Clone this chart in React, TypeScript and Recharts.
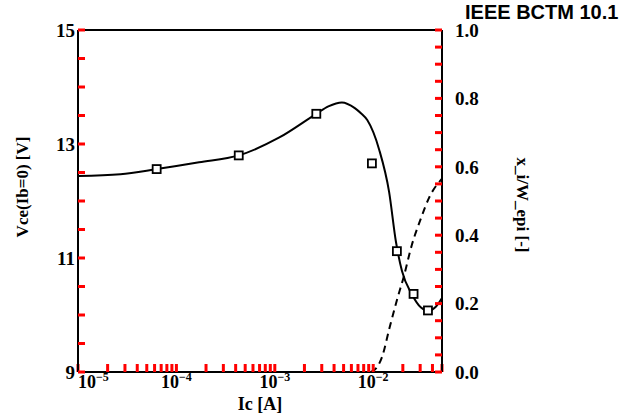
import { ComposedChart, Line, XAxis, YAxis, Label, ReferenceLine } from "recharts";

// Vce(Ib=0) fitted curve (left axis)
const curveIc = [1e-5, 2.7e-5, 6.3e-5, 1.7e-4, 4.3e-4, 1.1e-3, 2.64e-3, 3.5e-3, 4.8e-3, 6.5e-3, 7.5e-3, 8.7e-3, 1.15e-2, 1.45e-2, 1.7e-2, 1.96e-2, 2.46e-2, 3.06e-2, 3.6e-2, 4.3e-2, 5e-2];
const curveVce = [12.44, 12.47, 12.56, 12.68, 12.8, 13.11, 13.53, 13.66, 13.73, 13.63, 13.54, 13.42, 12.9, 12.16, 11.29, 10.77, 10.37, 10.13, 10.07, 10.14, 10.3];

// measured points (squares)
const markIc = [6.3e-5, 4.3e-4, 2.64e-3, 9.7e-3, 1.74e-2, 2.57e-2, 3.6e-2];
const markVce = [12.56, 12.8, 13.53, 12.66, 11.12, 10.37, 10.08];

// x_i/W_epi (right axis, dashed)
const xiIc = [9.5e-3, 1.08e-2, 1.23e-2, 1.45e-2, 1.74e-2, 2.05e-2, 2.46e-2, 3.06e-2, 3.7e-2, 5e-2];
const xiRatio = [0, 0.012, 0.044, 0.124, 0.21, 0.28, 0.37, 0.45, 0.51, 0.565];

const decades = [1e-5, 1e-4, 1e-3, 1e-2];
const mults = [1, 2, 3, 4, 5, 6, 7, 8, 9];
const xTicks = decades
  .flatMap((d) => mults.map((m) => Number((m * d).toPrecision(2))))
  .filter((v) => v <= 0.05);

const leftTicks = [9, 9.5, 10, 10.5, 11, 11.5, 12, 12.5, 13, 13.5, 14, 14.5, 15];
const leftLabels = [9, 11, 13, 15];
const rightTicks = [0, 0.05, 0.1, 0.15, 0.2, 0.25, 0.3, 0.35, 0.4, 0.45, 0.5, 0.55, 0.6, 0.65, 0.7, 0.75, 0.8, 0.85, 0.9, 0.95, 1];
const rightLabels = [0, 0.2, 0.4, 0.6, 0.8, 1];

const curveData = curveIc.map((ic, i) => ({ ic, v: curveVce[i] }));
const markData = markIc.map((ic, i) => ({ ic, v: markVce[i] }));
const xiData = xiIc.map((ic, i) => ({ ic, r: xiRatio[i] }));

const serif = { fontFamily: "'Liberation Serif', 'Times New Roman', serif", fontWeight: 700, fill: "#000" };
const axisLine = { stroke: "#000", strokeWidth: 2 };
const tickLine = { stroke: "red", strokeWidth: 3 };

function BottomTick(props: any) {
  const { x, y, payload, index } = props;
  const lg = Math.log10(payload.value);
  if (Math.abs(lg - Math.round(lg)) > 1e-6) return <g />;
  const exp = Math.round(lg);
  return (
    <text x={x} y={y + 14} textAnchor={index === 0 ? "start" : "middle"} fontSize={18} style={serif}>
      <tspan>10</tspan>
      <tspan dy={-7} fontSize={12}>{"\u2212" + -exp}</tspan>
    </text>
  );
}

function Square(props: any) {
  const { cx, cy } = props;
  return <rect x={cx - 4} y={cy - 4} width={8} height={8} fill="#fff" stroke="#000" strokeWidth={1.8} />;
}

function LeftTitle(props: any) {
  const { viewBox } = props;
  const x = viewBox.x + 22;
  const y = viewBox.y + viewBox.height / 2 - 14;
  return (
    <text x={x} y={y} transform={`rotate(-90 ${x} ${y})`} textAnchor="middle" dominantBaseline="central" fontSize={17} style={serif}>
      Vce(Ib=0) [V]
    </text>
  );
}

function RightTitle(props: any) {
  const { viewBox } = props;
  const x = viewBox.x + 80;
  const y = viewBox.y + viewBox.height / 2 + 4;
  return (
    <text x={x} y={y} transform={`rotate(90 ${x} ${y})`} textAnchor="middle" dominantBaseline="central" fontSize={17} style={serif}>
      x_i/W_epi [-]
    </text>
  );
}

function BottomTitle(props: any) {
  const { viewBox } = props;
  const x = viewBox.x + viewBox.width / 2;
  return (
    <text x={x} y={viewBox.y + 38} textAnchor="middle" fontSize={18} style={serif}>
      Ic [A]
    </text>
  );
}

export default function App() {
  return (
    <div style={{ position: "absolute", left: 0, top: 0, width: 625, height: 414, background: "#fff" }}>
      <div
        style={{
          position: "absolute",
          left: 465,
          top: 2,
          fontFamily: "'Liberation Sans', Arial, sans-serif",
          fontWeight: 700,
          fontSize: 20,
          lineHeight: 1,
          whiteSpace: "nowrap",
        }}
      >
        IEEE BCTM 10.1
      </div>
      <ComposedChart width={625} height={414} margin={{ top: 30, right: 0, bottom: 0, left: 0 }}>
        <XAxis
          xAxisId="b"
          dataKey="ic"
          type="number"
          scale="log"
          domain={[1e-5, 0.05]}
          allowDataOverflow
          ticks={xTicks}
          interval={0}
          height={42}
          tickSize={-8}
          tickMargin={10}
          axisLine={axisLine}
          tickLine={tickLine}
          tick={<BottomTick />}
        >
          <Label content={<BottomTitle />} />
        </XAxis>
        <YAxis
          yAxisId="left"
          type="number"
          domain={[9, 15]}
          ticks={leftTicks}
          interval={0}
          width={78}
          tickSize={-7}
          tickMargin={10}
          axisLine={axisLine}
          tickLine={tickLine}
          tick={{ fontSize: 19, ...serif }}
          tickFormatter={(v: number) => (leftLabels.includes(v) ? String(v) : "")}
        >
          <Label content={<LeftTitle />} />
        </YAxis>
        <YAxis
          yAxisId="right"
          orientation="right"
          type="number"
          domain={[0, 1]}
          ticks={rightTicks}
          interval={0}
          width={183}
          tickSize={-7}
          tickMargin={20}
          axisLine={axisLine}
          tickLine={tickLine}
          tick={{ fontSize: 19, ...serif }}
          tickFormatter={(v: number) => (rightLabels.some((l) => Math.abs(l - v) < 1e-6) ? v.toFixed(1) : "")}
        >
          <Label content={<RightTitle />} />
        </YAxis>
        <ReferenceLine xAxisId="b" yAxisId="left" y={15} stroke="#000" strokeWidth={2} />
        <Line
          xAxisId="b"
          yAxisId="left"
          data={curveData}
          dataKey="v"
          type="monotone"
          stroke="#000"
          strokeWidth={2}
          dot={false}
          isAnimationActive={false}
        />
        <Line
          xAxisId="b"
          yAxisId="right"
          data={xiData}
          dataKey="r"
          type="monotone"
          stroke="#000"
          strokeWidth={2}
          strokeDasharray="7 5"
          dot={false}
          isAnimationActive={false}
        />
        <Line
          xAxisId="b"
          yAxisId="left"
          data={markData}
          dataKey="v"
          stroke="none"
          dot={<Square />}
          activeDot={false}
          isAnimationActive={false}
        />
      </ComposedChart>
    </div>
  );
}
